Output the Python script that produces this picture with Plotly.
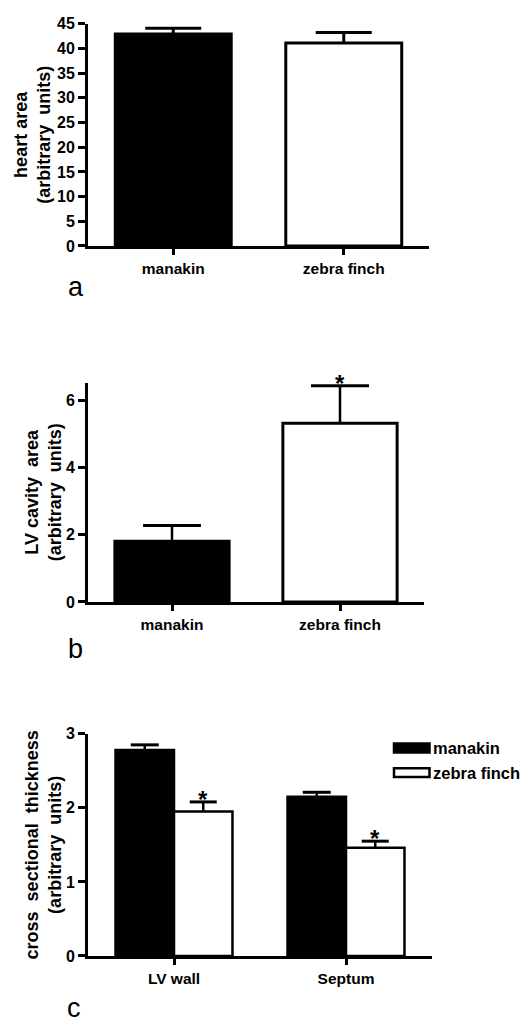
import plotly.graph_objects as go

# ---- data -------------------------------------------------------------
species = ["manakin", "zebra finch"]
species_fill = ["black", "white"]

heart_area = [42.9, 41.1]
heart_area_sem = [1.2, 2.1]

lv_cavity_area = [1.81, 5.32]
lv_cavity_sem = [0.47, 1.12]
lv_cavity_signif = ["", "*"]

regions = ["LV wall", "Septum"]
thickness_manakin = [2.78, 2.15]
thickness_manakin_sem = [0.07, 0.06]
thickness_finch = [1.95, 1.46]
thickness_finch_sem = [0.13, 0.09]
thickness_finch_signif = ["*", "*"]

# ---- helpers ----------------------------------------------------------
W, H = 524, 1024
FONT = "Liberation Sans, Arial, sans-serif"


def px_x(p):
    return p / W


def px_y(p):
    return 1 - p / H


def stem(sem, thickness):
    # upward-only error stem; caps are drawn separately as markers
    return dict(type="data", symmetric=False, array=sem,
                arrayminus=[0] * len(sem), color="black",
                thickness=thickness, width=0)


def caps(x, mean, sem, cap_px, axis, name):
    tops = [m + s for m, s in zip(mean, sem)]
    return go.Scatter(
        x=x, y=tops, mode="markers", name=name, showlegend=False,
        hoverinfo="skip", cliponaxis=False,
        marker=dict(symbol="line-ew", size=cap_px / 1.4, color="black",
                    line=dict(color="black", width=3)),
        xaxis="x" + axis, yaxis="y" + axis)


fig = go.Figure()

# panel a: heart area
fig.add_trace(go.Bar(
    x=species, y=heart_area,
    marker=dict(color=species_fill, line=dict(color="black", width=3)),
    error_y=stem(heart_area_sem, 3),
    xaxis="x", yaxis="y", showlegend=False))
fig.add_trace(caps(species, heart_area, heart_area_sem, 56, "", "a caps"))

# panel b: LV cavity area
fig.add_trace(go.Bar(
    x=species, y=lv_cavity_area,
    marker=dict(color=species_fill, line=dict(color="black", width=3)),
    error_y=stem(lv_cavity_sem, 2.5),
    xaxis="x2", yaxis="y2", showlegend=False))
fig.add_trace(caps(species, lv_cavity_area, lv_cavity_sem, 58, "2", "b caps"))

# panel c: cross sectional thickness, grouped by region
fig.add_trace(go.Bar(
    x=regions, y=thickness_manakin, name=species[0],
    marker=dict(color=species_fill[0], line=dict(color="black", width=2.5)),
    error_y=stem(thickness_manakin_sem, 2.5),
    xaxis="x3", yaxis="y3", showlegend=False))
fig.add_trace(go.Bar(
    x=regions, y=thickness_finch, name=species[1],
    marker=dict(color=species_fill[1], line=dict(color="black", width=2.5)),
    error_y=stem(thickness_finch_sem, 2.5),
    xaxis="x3", yaxis="y3", showlegend=False))
fig.add_trace(caps(regions, thickness_manakin, thickness_manakin_sem, 28,
                   "3", "c caps manakin"))
fig.add_trace(caps(regions, thickness_finch, thickness_finch_sem, 27,
                   "3", "c caps finch"))

# ---- axes -------------------------------------------------------------
tick_font = dict(family=FONT, size=16, color="black", weight="bold")
title_font = dict(family=FONT, size=18, color="black", weight="bold")

xcommon = dict(type="category", range=[-0.5, 1.5], showline=True,
               linecolor="black", linewidth=3, ticks="outside", ticklen=6,
               tickwidth=3, tickcolor="black", showgrid=False,
               zeroline=False, tickfont=dict(family=FONT, size=15.5,
                                             color="black", weight="bold"))
ycommon = dict(showline=True, linecolor="black", linewidth=3,
               ticks="outside", ticklen=7, tickwidth=3, tickcolor="black",
               showgrid=False, zeroline=False, tickfont=tick_font)

panels = {
    "": dict(x=(88, 429), y=(16, 242)),
    "2": dict(x=(88, 424), y=(381, 604)),
    "3": dict(x=(88, 432), y=(738, 964)),
}

for k, p in panels.items():
    fig.layout["xaxis" + k] = dict(
        xcommon, domain=[px_x(p["x"][0]), px_x(p["x"][1])],
        anchor="y" + k)
    fig.layout["yaxis" + k] = dict(
        ycommon, domain=[px_y(p["y"][1]), px_y(p["y"][0])],
        anchor="x" + k)

fig.layout.yaxis.update(range=[0, 45], dtick=5,
                        title=dict(text="heart area<br>(arbitrary  units)",
                                   font=title_font, standoff=2))
fig.layout.yaxis2.update(range=[0, 6.53], tickvals=[0, 2, 4, 6],
                         title=dict(text="LV cavity  area<br>(arbitrary  units)",
                                    font=title_font, standoff=0))
fig.layout.yaxis3.update(range=[0, 3], dtick=1,
                         title=dict(text="cross  sectional  thickness<br>(arbitrary  units)",
                                    font=title_font, standoff=0))

# ---- significance marks -----------------------------------------------
annotations = []
star_font = dict(family=FONT, size=24, color="black", weight="bold")
for cat, m, s, mark in zip(species, lv_cavity_area, lv_cavity_sem,
                           lv_cavity_signif):
    if mark:
        annotations.append(dict(x=cat, y=m + s, xref="x2", yref="y2",
                                text=mark, showarrow=False, yanchor="bottom",
                                yshift=-13, font=star_font))
for i, (cat, m, s, mark) in enumerate(zip(regions, thickness_finch,
                                          thickness_finch_sem,
                                          thickness_finch_signif)):
    if mark:
        annotations.append(dict(x=i + 0.17, y=m + s, xref="x3", yref="y3",
                                text=mark, showarrow=False, yanchor="bottom",
                                yshift=-13, font=star_font))

# ---- panel letters ----------------------------------------------------
letter_font = dict(family=FONT, size=27, color="black")
for letter, (lx, ly) in {"a": (66, 284), "b": (66, 651.5), "c": (65, 1017)}.items():
    annotations.append(dict(x=px_x(lx), y=px_y(ly), xref="paper",
                            yref="paper", text=letter, showarrow=False,
                            xanchor="left", yanchor="middle",
                            font=letter_font))

# ---- legend for panel c -----------------------------------------------
shapes = []
legend_rows = [(species[0], species_fill[0], 752.5),
               (species[1], species_fill[1], 777.5)]
for name, fill, cy in legend_rows:
    shapes.append(dict(type="rect", xref="paper", yref="paper",
                       x0=px_x(394), x1=px_x(429.5),
                       y0=px_y(cy + 4.5), y1=px_y(cy - 4.5),
                       fillcolor=fill, line=dict(color="black", width=2.5)))
    annotations.append(dict(x=px_x(431), y=px_y(cy), xref="paper",
                            yref="paper", text=name, showarrow=False,
                            xanchor="left", yanchor="middle",
                            font=dict(family=FONT, size=16.5, color="black",
                                      weight="bold")))

fig.update_layout(
    width=W, height=H, margin=dict(l=0, r=0, t=0, b=0),
    paper_bgcolor="white", plot_bgcolor="white",
    barmode="group", bargap=0.32, bargroupgap=0,
    scattermode="group", scattergap=0.32,
    showlegend=False, annotations=annotations, shapes=shapes,
)

fig.write_html("out.html")
